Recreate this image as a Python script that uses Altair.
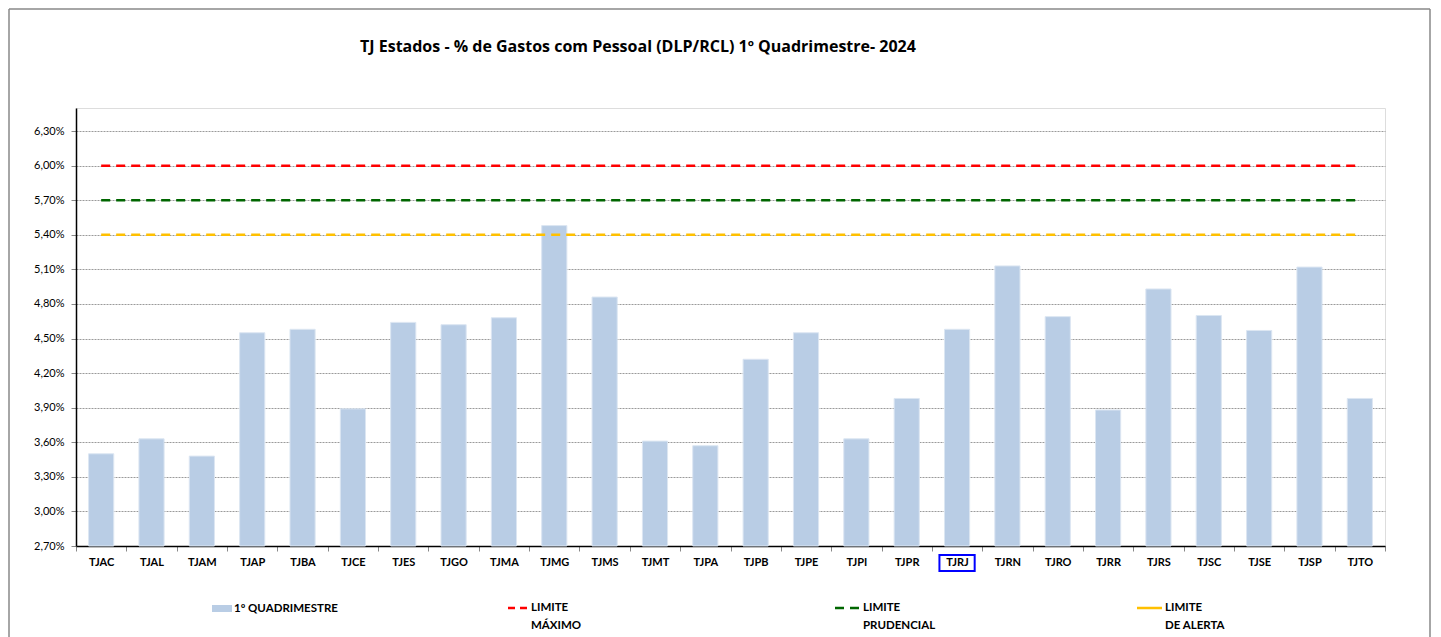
import altair as alt
import pandas as pd

# ---------------- data ----------------
categories = ["TJAC", "TJAL", "TJAM", "TJAP", "TJBA", "TJCE", "TJES", "TJGO", "TJMA",
              "TJMG", "TJMS", "TJMT", "TJPA", "TJPB", "TJPE", "TJPI", "TJPR", "TJRJ",
              "TJRN", "TJRO", "TJRR", "TJRS", "TJSC", "TJSE", "TJSP", "TJTO"]
values = [3.50, 3.63, 3.48, 4.55, 4.58, 3.89, 4.64, 4.62, 4.68,
          5.48, 4.86, 3.61, 3.57, 4.32, 4.55, 3.63, 3.98, 4.58,
          5.13, 4.69, 3.88, 4.93, 4.70, 4.57, 5.12, 3.98]
limit_names = ["LIMITE MÁXIMO", "LIMITE PRUDENCIAL", "LIMITE DE ALERTA"]
limit_values = [6.00, 5.70, 5.40]
limit_colors = ["#FF0000", "#006600", "#FFC000"]
y_ticks = [2.70, 3.00, 3.30, 3.60, 3.90, 4.20, 4.50, 4.80, 5.10, 5.40, 5.70, 6.00, 6.30]
y_domain = [2.70, 6.50]
highlight = ["TJRJ"]
title_text = "TJ  Estados - % de Gastos com Pessoal (DLP/RCL) 1º Quadrimestre- 2024"
legend_bar_label = "1º QUADRIMESTRE"
legend_line_labels = ["LIMITE\nMÁXIMO", "LIMITE\nPRUDENCIAL", "LIMITE\nDE ALERTA"]

FONT = "Lato"
W, H = 1309, 438
BAR_COLOR = "#B9CDE5"

bars_df = pd.DataFrame({"cat": categories, "val": values})
lim_rows = []
for n, v in zip(limit_names, limit_values):
    for c in categories:
        lim_rows.append({"cat": c, "lim": n, "val": v})
lim_df = pd.DataFrame(lim_rows)

xscale = alt.Scale(domain=categories, paddingInner=0, paddingOuter=0)
yscale = alt.Scale(domain=y_domain, zero=False, nice=False)

x_axis = alt.Axis(title=None, labelFont=FONT, labelFontSize=11, labelFontWeight="bold",
                  labelColor="#000000", labelAngle=0, labelPadding=5,
                  domainColor="#000000", domainWidth=1.5,
                  ticks=True, tickBand="extent", tickSize=5, tickColor="#888888",
                  grid=False)
y_axis = alt.Axis(title=None, values=y_ticks, tickCount=len(y_ticks) + 5, labelOverlap=False,
                  labelExpr="replace(format(datum.value, '.2f'), '.', ',') + '%'",
                  labelFont=FONT, labelFontSize=11, labelColor="#000000", labelPadding=7,
                  domainColor="#000000", domainWidth=1.5,
                  tickSize=5, tickColor="#888888",
                  grid=True, gridColor="#9a9a9a", gridDash=[2, 1], gridWidth=1)

bars = alt.Chart(bars_df).mark_bar(
    width=alt.RelativeBandSize(0.5), color=BAR_COLOR, stroke="#DCE6F2", strokeWidth=1
).encode(
    x=alt.X("cat:N", sort=categories, scale=xscale, axis=x_axis),
    y=alt.Y("val:Q", scale=yscale, axis=y_axis),
    y2=alt.datum(y_domain[0]),
)

lines = alt.Chart(lim_df).mark_line(strokeDash=[9, 6], strokeWidth=2.5).encode(
    x=alt.X("cat:N", sort=categories, scale=xscale),
    y=alt.Y("val:Q", scale=yscale),
    color=alt.Color("lim:N", scale=alt.Scale(domain=limit_names, range=limit_colors), legend=None),
    detail="lim:N",
)

hl = alt.Chart(pd.DataFrame({"cat": highlight})).mark_bar(
    width=alt.RelativeBandSize(0.7), fill=None, fillOpacity=0, stroke="#0000FF", strokeWidth=2
).encode(
    x=alt.X("cat:N", sort=categories, scale=xscale),
    y=alt.value(H + 9),
    y2=alt.value(H + 25),
)

one = pd.DataFrame({"t": [""]})

title = alt.Chart(pd.DataFrame({"t": [title_text]})).mark_text(
    align="left", baseline="middle", font="Open Sans", fontSize=16, fontWeight="bold", color="#000000"
).encode(x=alt.value(284), y=alt.value(-61), text="t:N")

# legend
LY = 500
leg_patch = alt.Chart(one).mark_rect(color=BAR_COLOR).encode(
    x=alt.value(136), x2=alt.value(156), y=alt.value(LY - 3), y2=alt.value(LY + 4))
leg_bar_text = alt.Chart(pd.DataFrame({"t": [legend_bar_label]})).mark_text(
    align="left", baseline="middle", font=FONT, fontSize=11.5, fontWeight="bold", color="#000000"
).encode(x=alt.value(158), y=alt.value(LY + 1), text="t:N")

leg_sym_x = [(432, 452), (759, 784), (1061, 1086)]
leg_txt_x = [455, 787, 1089]
leg_dash = [[7, 5], [9, 6], [1, 0]]
leg_layers = []
for (x1, x2), tx, col, lab, dsh in zip(leg_sym_x, leg_txt_x, limit_colors, legend_line_labels, leg_dash):
    leg_layers.append(alt.Chart(one).mark_rule(color=col, strokeWidth=2.5, strokeDash=dsh).encode(
        x=alt.value(x1), x2=alt.value(x2), y=alt.value(LY)))
    leg_layers.append(alt.Chart(pd.DataFrame({"t": [lab]})).mark_text(
        align="left", baseline="top", font=FONT, fontSize=11.5, fontWeight="bold",
        color="#000000", lineBreak="\n", lineHeight=18
    ).encode(x=alt.value(tx), y=alt.value(LY - 6), text="t:N"))

# outer frame (top, left, right edges)
BORDER = "#888888"
frame = [
    alt.Chart(one).mark_rule(color=BORDER, strokeWidth=1.5).encode(
        x=alt.value(-67), x2=alt.value(1354), y=alt.value(-99)),
    alt.Chart(one).mark_rule(color=BORDER, strokeWidth=1.5).encode(
        x=alt.value(-67), y=alt.value(-99), y2=alt.value(H + 100)),
    alt.Chart(one).mark_rule(color=BORDER, strokeWidth=1.5).encode(
        x=alt.value(1354), y=alt.value(-99), y2=alt.value(H + 100)),
]

chart = alt.layer(bars, lines, hl, title, leg_patch, leg_bar_text, *leg_layers, *frame).properties(
    width=W, height=H,
    autosize=alt.AutoSizeParams(type="none"),
    padding={"left": 68, "top": 100, "right": 48, "bottom": 100},
).configure_view(stroke=None).configure(background="#FFFFFF")

chart.save("out.html", embed_options={"renderer": "svg", "actions": False})
